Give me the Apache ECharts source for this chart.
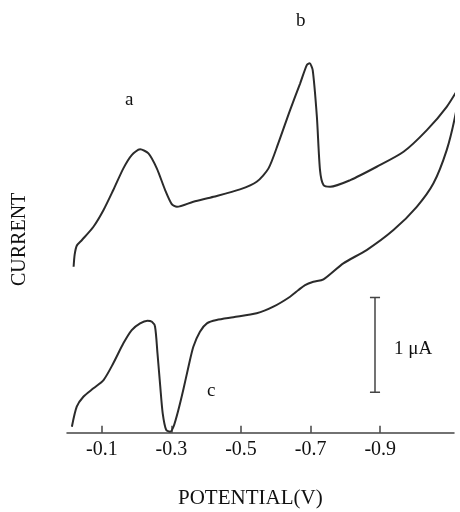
<!DOCTYPE html>
<html>
<head>
<meta charset="utf-8">
<script src="https://cdn.jsdelivr.net/npm/echarts@6/dist/echarts.min.js"></script>
<style>
  html, body { margin: 0; padding: 0; background: #fff; }
  #chart { width: 460px; height: 512px; }
</style>
</head>
<body>
<div id="chart"></div>
<script>
// potential (V) and current (µA)
var forwardPotential = [-0.019, -0.022, -0.028, -0.043, -0.076, -0.105, -0.133, -0.162, -0.186, -0.210, -0.234, -0.258, -0.282, -0.301, -0.316, -0.363, -0.421, -0.497, -0.545, -0.579, -0.607, -0.641, -0.670, -0.689, -0.697, -0.706, -0.718, -0.727, -0.737, -0.756, -0.814, -0.890, -0.967, -1.034, -1.091, -1.130];
var forwardCurrent = [1.753, 1.880, 1.975, 2.035, 2.175, 2.352, 2.563, 2.792, 2.932, 2.993, 2.950, 2.792, 2.563, 2.415, 2.386, 2.439, 2.492, 2.570, 2.650, 2.792, 3.056, 3.408, 3.690, 3.883, 3.901, 3.830, 3.337, 2.774, 2.616, 2.598, 2.668, 2.809, 2.967, 3.196, 3.442, 3.672];

var reversePotential = [-1.130, -1.115, -1.091, -1.053, -1.005, -0.938, -0.861, -0.794, -0.737, -0.708, -0.684, -0.665, -0.641, -0.593, -0.545, -0.478, -0.430, -0.402, -0.382, -0.363, -0.349, -0.334, -0.320, -0.306, -0.296, -0.285, -0.275, -0.268, -0.260, -0.253, -0.244, -0.231, -0.210, -0.186, -0.162, -0.133, -0.105, -0.076, -0.047, -0.028, -0.014];
var reverseCurrent = [3.672, 3.337, 2.985, 2.634, 2.386, 2.140, 1.929, 1.789, 1.620, 1.594, 1.560, 1.507, 1.436, 1.331, 1.261, 1.219, 1.190, 1.155, 1.067, 0.908, 0.697, 0.451, 0.240, 0.063, 0.011, 0.029, 0.205, 0.486, 0.838, 1.119, 1.172, 1.183, 1.155, 1.084, 0.944, 0.733, 0.556, 0.469, 0.380, 0.275, 0.063];

var tickValues = [-0.1, -0.3, -0.5, -0.7, -0.9];

// 1 µA scale bar
var scaleBarPotential = -0.885;
var scaleBarCurrent = [0.427, 1.427];
var scaleCapHalf = 0.0145;

function pairs(xs, ys) {
  var out = [];
  for (var i = 0; i < xs.length; i++) {
    out.push([xs[i], ys[i]]);
  }
  return out;
}

var chart = echarts.init(document.getElementById('chart'));
var serif = 'Liberation Serif';
var ink = '#2b2b2b';

var lineStyle = { color: ink, width: 2 };
var barData = [
  [scaleBarPotential, scaleBarCurrent[0]], [scaleBarPotential, scaleBarCurrent[1]]
];
var capLow = [
  [scaleBarPotential - scaleCapHalf, scaleBarCurrent[0]], [scaleBarPotential + scaleCapHalf, scaleBarCurrent[0]]
];
var capHigh = [
  [scaleBarPotential - scaleCapHalf, scaleBarCurrent[1]], [scaleBarPotential + scaleCapHalf, scaleBarCurrent[1]]
];

chart.setOption({
  backgroundColor: '#ffffff',
  animation: false,
  grid: { left: 67, right: 6, top: 54, bottom: 79.3 },
  xAxis: {
    type: 'value',
    inverse: true,
    min: -1.112,
    max: 0,
    axisLine: { show: true, lineStyle: { color: '#444', width: 1.5 } },
    axisTick: { show: true, inside: true, length: 7, customValues: tickValues, lineStyle: { color: '#444', width: 1.5 } },
    axisLabel: {
      customValues: tickValues,
      margin: 7,
      color: '#111',
      fontFamily: serif,
      fontSize: 20,
      formatter: function (v) { return v.toFixed(1); }
    },
    splitLine: { show: false }
  },
  yAxis: {
    type: 'value',
    min: 0,
    max: 4,
    show: false
  },
  series: [
    { type: 'line', data: pairs(forwardPotential, forwardCurrent), showSymbol: false, smooth: 0.25, clip: false, lineStyle: lineStyle },
    { type: 'line', data: pairs(reversePotential, reverseCurrent), showSymbol: false, smooth: 0.25, clip: false, lineStyle: lineStyle },
    { type: 'line', data: barData, showSymbol: false, lineStyle: { color: '#444', width: 1.5 } },
    { type: 'line', data: capLow, showSymbol: false, lineStyle: { color: '#444', width: 1.5 } },
    { type: 'line', data: capHigh, showSymbol: false, lineStyle: { color: '#444', width: 1.5 } }
  ],
  graphic: [
    { type: 'text', left: 125, top: 91, style: { text: 'a', font: '19px "Liberation Serif"', fill: '#111' } },
    { type: 'text', left: 296, top: 12, style: { text: 'b', font: '19px "Liberation Serif"', fill: '#111' } },
    { type: 'text', left: 207, top: 382, style: { text: 'c', font: '19px "Liberation Serif"', fill: '#111' } },
    { type: 'text', left: 394, top: 340, style: { text: '1 μA', font: '19px "Liberation Serif"', fill: '#111' } },
    { type: 'text', left: 178, top: 488, style: { text: 'POTENTIAL(V)', font: '21px "Liberation Serif"', fill: '#111' } },
    {
      type: 'text', x: 10, y: 286, rotation: Math.PI / 2,
      style: { text: 'CURRENT', font: '20px "Liberation Serif"', fill: '#111' }
    }
  ]
});
</script>
</body>
</html>
